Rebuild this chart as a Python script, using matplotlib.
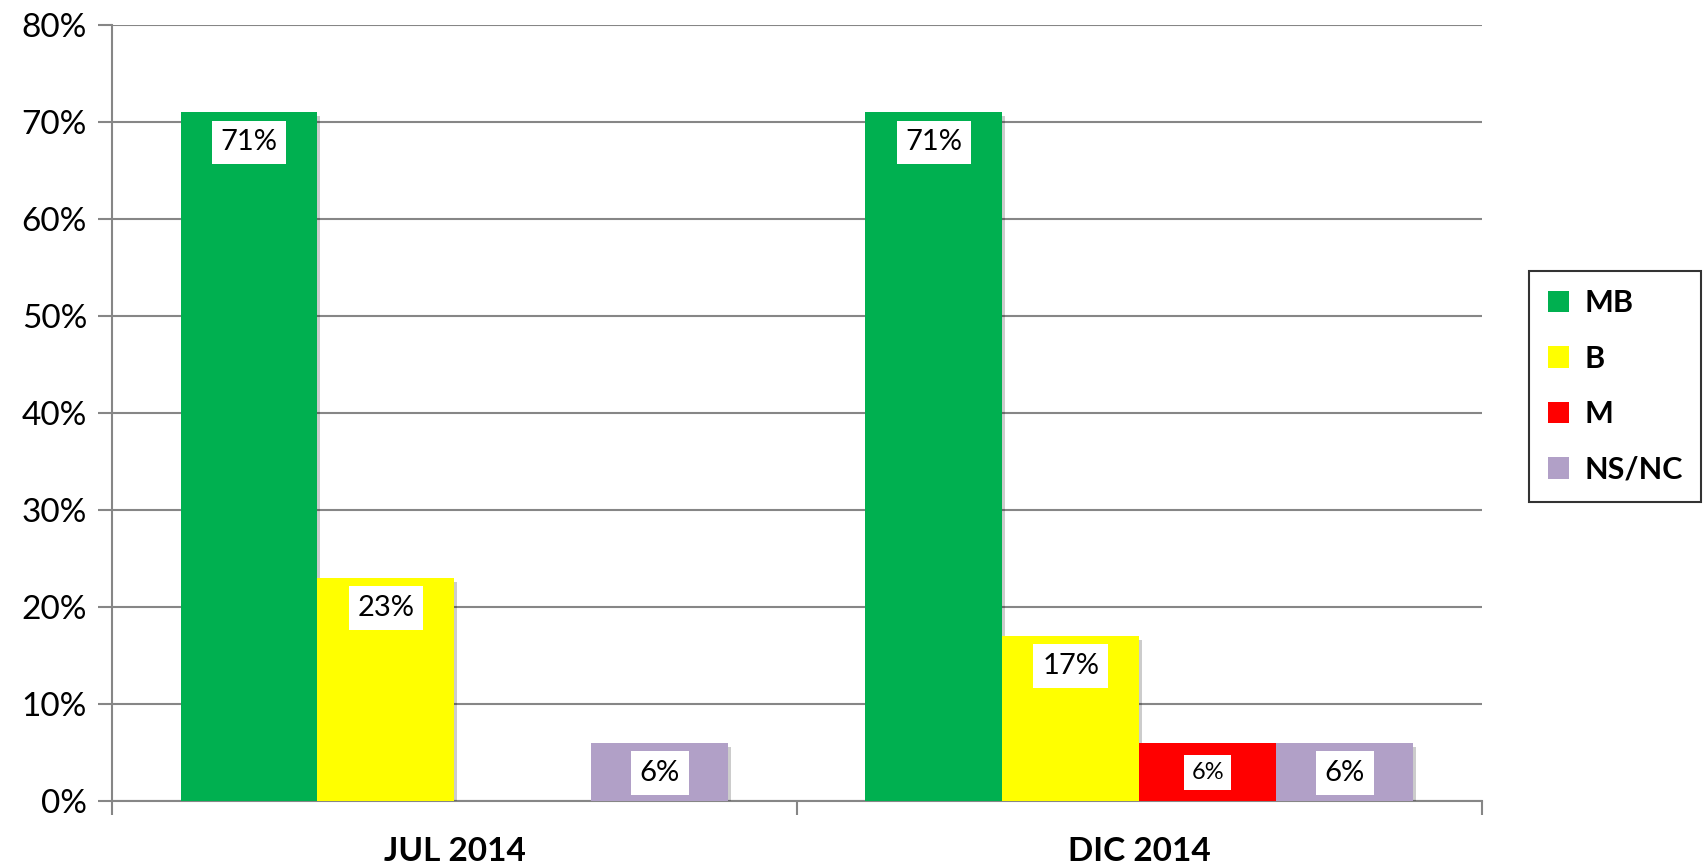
import matplotlib
matplotlib.use("Agg")
import matplotlib.pyplot as plt
import matplotlib.patheffects as pe
from matplotlib.patches import Patch
import numpy as np

plt.rcParams["font.family"] = ["Lato", "DejaVu Sans"]

# Chart data
categories = ["JUL 2014", "DIC 2014"]
series = ["MB", "B", "M", "NS/NC"]
values = {
    "MB": [71, 71],
    "B": [23, 17],
    "M": [0, 6],
    "NS/NC": [6, 6],
}
colors = ["#00B050", "#FFFF00", "#FF0000", "#B1A0C7"]
yticks = [0, 10, 20, 30, 40, 50, 60, 70, 80]

fig = plt.figure(figsize=(17.03, 8.68), dpi=100)
ax = fig.add_axes([0.0658, 0.0772, 0.8042, 0.894])

x = np.arange(len(categories))
width = 0.2
offsets = [-0.3, -0.1, 0.1, 0.3]
shadow = [pe.SimplePatchShadow(offset=(2, -3), shadow_rgbFace="#000000", alpha=0.2), pe.Normal()]

for name, off, col in zip(series, offsets, colors):
    for xi, v in zip(x, values[name]):
        if v == 0:
            continue
        b = ax.bar(xi + off, v, width, color=col, zorder=3)[0]
        b.set_path_effects(shadow)
        fs = 17 if name == "M" else 21
        ax.annotate(f"{v}%", (b.get_x() + b.get_width() / 2, v),
                    xytext=(0, -30), textcoords="offset pixels",
                    ha="center", va="center", fontsize=fs, zorder=5,
                    bbox=dict(boxstyle="square,pad=0.3", fc="white", ec="none"))

ax.set_xlim(-0.5, 1.5)
ax.set_ylim(0, 80)
ax.set_yticks(yticks)
ax.set_yticklabels([f"{t}%" for t in yticks], fontsize=24)
ax.grid(axis="y", color="#868686", linewidth=1.5, zorder=0)
ax.set_axisbelow(True)

# category ticks on boundaries, labels at centers
ax.set_xticks([-0.5, 0.5, 1.5])
ax.set_xticklabels([])
ax.set_xticks(x, minor=True)
ax.set_xticklabels(categories, minor=True, fontsize=24, fontweight="bold")
ax.tick_params(axis="x", which="major", length=10, width=1.5, color="#868686")
ax.tick_params(axis="x", which="minor", length=0, pad=26)
ax.tick_params(axis="y", length=10, width=1.5, color="#868686", pad=8)

for s in ["top", "right"]:
    ax.spines[s].set_visible(False)
for s in ["left", "bottom"]:
    ax.spines[s].set_color("#868686")
    ax.spines[s].set_linewidth(1.5)

handles = [Patch(facecolor=c, label=n) for n, c in zip(series, colors)]
leg = fig.legend(handles=handles, loc="upper left", bbox_to_anchor=(0.898, 0.688), frameon=True,
                 fancybox=False, edgecolor="black", prop=dict(size=22, weight="bold"),
                 handlelength=0.7, handleheight=0.7, handletextpad=0.5,
                 labelspacing=0.9, borderpad=0.6, borderaxespad=0)
leg.get_frame().set_linewidth(1.5)

fig.savefig("out.png", dpi=100)
